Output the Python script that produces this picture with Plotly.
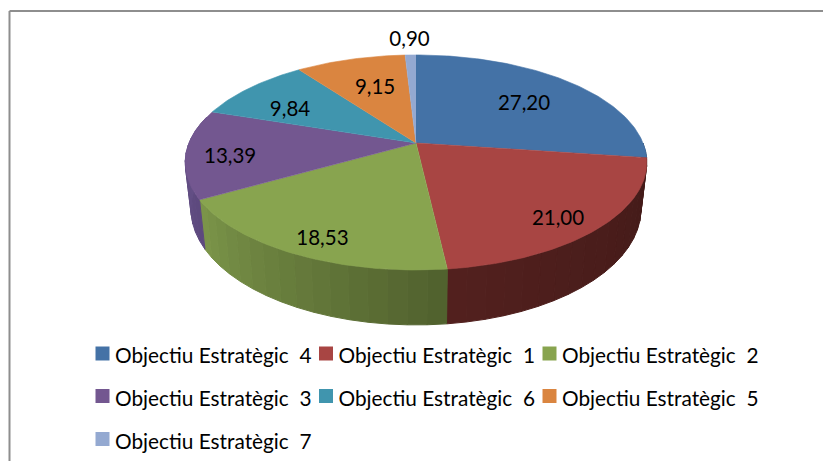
import math
import plotly.graph_objects as go

# --- data ---
categories = ["Objectiu Estratègic 4", "Objectiu Estratègic 1", "Objectiu Estratègic 2",
              "Objectiu Estratègic 3", "Objectiu Estratègic 6", "Objectiu Estratègic 5",
              "Objectiu Estratègic 7"]
values = [27.20, 21.00, 18.53, 13.39, 9.84, 9.15, 0.90]
value_labels = ["27,20", "21,00", "18,53", "13,39", "9,84", "9,15", "0,90"]
legend_labels = ["Objectiu Estratègic  4", "Objectiu Estratègic  1", "Objectiu Estratègic  2",
                 "Objectiu Estratègic  3", "Objectiu Estratègic  6", "Objectiu Estratègic  5",
                 "Objectiu Estratègic  7"]

# --- styles ---
top_colors = ["#4472A6", "#A84543", "#88A44F", "#735790", "#4095AE", "#DA8540", "#94A9D1"]
wall_from = [(46, 74, 110), (66, 26, 24), (80, 96, 45), (92, 72, 125), (40, 96, 112), (140, 85, 40), (96, 110, 136)]
wall_to = [(46, 74, 110), (82, 32, 30), (124, 150, 74), (104, 84, 138), (40, 96, 112), (140, 85, 40), (96, 110, 136)]
label_radius = [0.67, 0.84, 0.85, 0.81, 0.69, 0.64, 1.236]
label_nudge = [1, 3, -2.2, -2, -5, 1.5, 0]
FONT = "Lato"
LABEL_FS = 20.5
LEGEND_FS = 20.8

# --- projection of the tilted disc ---
CX, CY, RX, SY, K, DROP, BX = 416, 143, 227, 104, 0.181, 45, 0.975
total = sum(values)


def project(theta, r=1.0, lower=False):
    u, v = r * math.sin(theta), r * math.cos(theta)
    d = 1 + K * v
    if lower:
        return CX + BX * RX * u / d, CY + (-SY * v + DROP) / d
    return CX + RX * u / d, CY - SY * v / d


def rim(a, b, step=math.radians(1.0)):
    n = max(2, int(abs(b - a) / step) + 1)
    return [a + (b - a) * i / (n - 1) for i in range(n)]


edges = [0.0]
for val in values:
    edges.append(edges[-1] + val / total * 2 * math.pi)

fig = go.Figure()

# side walls: only the near half of the rim shows
vis_a, vis_b = math.radians(90), math.radians(285)
for i, name in enumerate(categories):
    a, b = max(edges[i], vis_a), min(edges[i + 1], vis_b)
    if a >= b:
        continue
    n = max(1, int((b - a) / math.radians(4)))
    for j in range(n):
        s, e = a + (b - a) * j / n, a + (b - a) * (j + 1) / n
        t = (j + 0.5) / n
        col = tuple(round(wall_from[i][c] + (wall_to[i][c] - wall_from[i][c]) * t) for c in range(3))
        thetas = rim(s, e)
        top = [project(th) for th in thetas]
        low = [project(th, lower=True) for th in reversed(thetas)]
        pts = top + low + top[:1]
        fig.add_trace(go.Scatter(x=[p[0] for p in pts], y=[p[1] for p in pts], mode="lines",
                                 fill="toself", fillcolor=f"rgb{col}",
                                 line=dict(width=1, color=f"rgb{col}"),
                                 hoverinfo="skip", showlegend=False))

# top faces
for i, name in enumerate(categories):
    pts = [(CX, CY)] + [project(th) for th in rim(edges[i], edges[i + 1])]
    fig.add_trace(go.Scatter(x=[p[0] for p in pts], y=[p[1] for p in pts], mode="lines",
                             fill="toself", fillcolor=top_colors[i], line=dict(width=0.6, color=top_colors[i]),
                             name=name, text=value_labels[i], hoverinfo="name+text", showlegend=False))

# value labels
lab_pts = [project((edges[i] + edges[i + 1]) / 2 + math.radians(label_nudge[i]), label_radius[i])
           for i in range(len(values))]
fig.add_trace(go.Scatter(x=[p[0] for p in lab_pts], y=[p[1] + 3 for p in lab_pts], mode="text",
                         text=value_labels, textposition="middle center",
                         textfont=dict(family=FONT, size=LABEL_FS, color="#000000"),
                         hoverinfo="skip", showlegend=False))

# legend, in three rows of three columns
col_x = [102.5, 326, 549.5]
row_y = [353.5, 396, 439]
for i, label in enumerate(legend_labels):
    x, y = col_x[i % 3], row_y[i // 3]
    fig.add_trace(go.Scatter(x=[x], y=[y], mode="markers",
                             marker=dict(symbol="square", size=14, color=top_colors[i]),
                             hoverinfo="skip", showlegend=False))
    fig.add_trace(go.Scatter(x=[x + 12.5], y=[y + 4.5], mode="text", text=[label], textposition="middle right",
                             textfont=dict(family=FONT, size=LEGEND_FS, color="#000000"),
                             hoverinfo="skip", showlegend=False))

fig.update_layout(
    width=823, height=461, margin=dict(l=0, r=0, t=0, b=0),
    paper_bgcolor="white", plot_bgcolor="white", showlegend=False,
    xaxis=dict(range=[0, 823], visible=False, fixedrange=True),
    yaxis=dict(range=[461, 0], visible=False, fixedrange=True),
    shapes=[
        dict(type="line", xref="paper", yref="paper", x0=9.5 / 823, x1=1, y0=1 - 11 / 461, y1=1 - 11 / 461,
             line=dict(color="#8E8E8E", width=2)),
        dict(type="line", xref="paper", yref="paper", x0=9.5 / 823, x1=9.5 / 823, y0=0, y1=1 - 11 / 461,
             line=dict(color="#8E8E8E", width=2)),
    ],
)
fig.write_html("out.html", config={"displayModeBar": False},
               post_script="document.body.style.margin='0';document.documentElement.style.overflow='hidden';")
